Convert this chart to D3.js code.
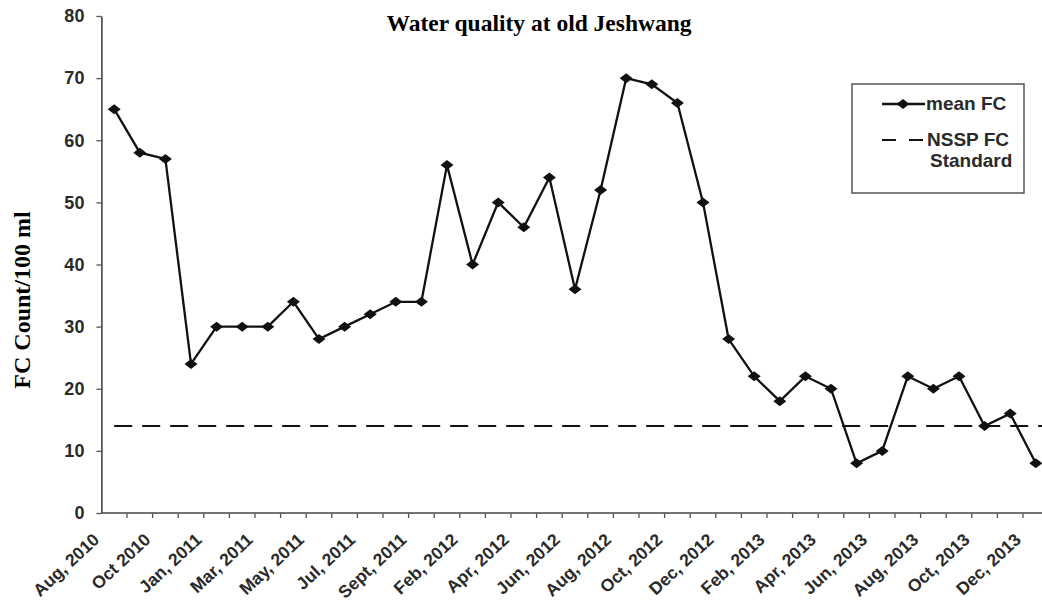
<!DOCTYPE html>
<html>
<head>
<meta charset="utf-8">
<script src="https://cdn.jsdelivr.net/npm/d3@7"></script>
<style>
  body { margin: 0; background: #fff; }
</style>
</head>
<body>
<svg width="1042" height="602"></svg>
<script>

// one label on every second sampling point
var labels = ["Aug, 2010", "Oct 2010", "Jan, 2011", "Mar, 2011", "May, 2011", "Jul, 2011", "Sept, 2011",
    "Feb, 2012", "Apr, 2012", "Jun, 2012", "Aug, 2012", "Oct, 2012", "Dec, 2012", "Feb, 2013",
    "Apr, 2013", "Jun, 2013", "Aug, 2013", "Oct, 2013", "Dec, 2013"];
var meanFC = [65, 58, 57, 24, 30, 30, 30, 34, 28, 30, 32, 34, 34, 56, 40, 50, 46, 54, 36, 52,
    70, 69, 66, 50, 28, 22, 18, 22, 20, 8, 10, 22, 20, 22, 14, 16, 8];
var nsspStandard = 14;
var yTicks = [0, 10, 20, 30, 40, 50, 60, 70, 80];

var svg = d3.select("svg");

var x0 = 101.4, step = 25.6, yBottom = 513, yTop = 16;

var x = d3.scaleBand()
    .domain(d3.range(meanFC.length))
    .range([x0, x0 + step * meanFC.length])
    .padding(0);

var y = d3.scaleLinear()
    .domain([0, 80])
    .range([yBottom, yTop]);

var cx = function(i) { return x(i) + x.bandwidth() / 2; };

// title
svg.append("text")
    .attr("x", 539)
    .attr("y", 31)
    .attr("text-anchor", "middle")
    .style("font-family", "'Liberation Serif', 'Times New Roman', serif")
    .style("font-weight", "bold")
    .style("font-size", "23.5px")
    .text("Water quality at old Jeshwang");

// y axis
var yAxis = svg.append("g")
    .attr("transform", "translate(" + x0 + ",0)")
    .call(d3.axisLeft(y).tickValues(yTicks).tickSize(5).tickPadding(12).tickSizeOuter(0));
yAxis.select(".domain").attr("stroke", "#444").attr("stroke-width", 1.6);
yAxis.selectAll(".tick line").attr("stroke", "#555").attr("stroke-width", 1.3);
yAxis.selectAll(".tick text")
    .style("font-family", "'Liberation Sans', Arial, sans-serif")
    .style("font-weight", "bold")
    .style("font-size", "18px")
    .attr("fill", "#2a2a2a");

svg.append("text")
    .attr("transform", "translate(30,300) rotate(-90)")
    .attr("text-anchor", "middle")
    .style("font-family", "'Liberation Serif', 'Times New Roman', serif")
    .style("font-weight", "bold")
    .style("font-size", "24px")
    .text("FC Count/100 ml");

// x axis: ticks at category boundaries
var xAxis = svg.append("g").attr("transform", "translate(0," + yBottom + ")");
xAxis.append("line")
    .attr("x1", x0).attr("x2", 1042)
    .attr("stroke", "#444").attr("stroke-width", 1.6);
xAxis.selectAll(".tk")
    .data(d3.range(meanFC.length).slice(1))
    .enter().append("line")
    .attr("class", "tk")
    .attr("x1", function(i) { return x(i); })
    .attr("x2", function(i) { return x(i); })
    .attr("y1", 0).attr("y2", 5)
    .attr("stroke", "#555").attr("stroke-width", 1.3);

svg.selectAll(".xlab")
    .data(labels)
    .enter().append("text")
    .attr("class", "xlab")
    .attr("text-anchor", "end")
    .attr("transform", function(d, k) {
      return "translate(" + (x(k * 2) - 1) + ",541) rotate(-43)";
    })
    .style("font-family", "'Liberation Sans', Arial, sans-serif")
    .style("font-weight", "bold")
    .style("font-size", "17.5px")
    .attr("fill", "#2a2a2a")
    .text(function(d) { return d; });

// NSSP standard
svg.append("line")
    .attr("x1", cx(0)).attr("x2", 1042)
    .attr("y1", y(nsspStandard)).attr("y2", y(nsspStandard))
    .attr("stroke", "#111").attr("stroke-width", 2)
    .attr("stroke-dasharray", "18,10");

// mean FC line
var line = d3.line()
    .x(function(d, i) { return cx(i); })
    .y(function(d) { return y(d); });

svg.append("path")
    .datum(meanFC)
    .attr("d", line)
    .attr("fill", "none")
    .attr("stroke", "#111")
    .attr("stroke-width", 2.3);

var diamond = "M-6.5,0L0,-5L6.5,0L0,5Z";

svg.selectAll(".pt")
    .data(meanFC)
    .enter().append("path")
    .attr("class", "pt")
    .attr("d", diamond)
    .attr("transform", function(d, i) { return "translate(" + cx(i) + "," + y(d) + ")"; })
    .attr("fill", "#111");

// legend
var lg = svg.append("g");
lg.append("rect")
    .attr("x", 852).attr("y", 84)
    .attr("width", 172).attr("height", 109)
    .attr("fill", "#fff").attr("stroke", "#555").attr("stroke-width", 1.5);
lg.append("line")
    .attr("x1", 882).attr("x2", 925).attr("y1", 104).attr("y2", 104)
    .attr("stroke", "#111").attr("stroke-width", 2.3);
lg.append("path")
    .attr("d", diamond)
    .attr("transform", "translate(903,104)")
    .attr("fill", "#111");
lg.append("line")
    .attr("x1", 882).attr("x2", 923).attr("y1", 140).attr("y2", 140)
    .attr("stroke", "#111").attr("stroke-width", 2)
    .attr("stroke-dasharray", "14,13");

var legendText = [["mean FC", 926, 110], ["NSSP FC", 927, 146], ["Standard", 930, 167]];
lg.selectAll(".lt")
    .data(legendText)
    .enter().append("text")
    .attr("x", function(d) { return d[1]; })
    .attr("y", function(d) { return d[2]; })
    .style("font-family", "'Liberation Sans', Arial, sans-serif")
    .style("font-weight", "bold")
    .style("font-size", "19px")
    .attr("fill", "#2a2a2a")
    .text(function(d) { return d[0]; });

</script>
</body>
</html>
